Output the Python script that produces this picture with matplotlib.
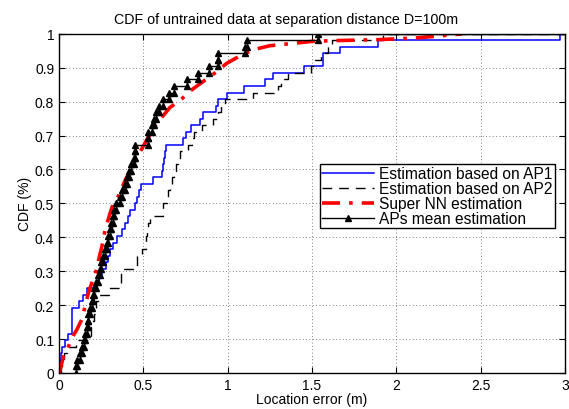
import matplotlib
matplotlib.use("Agg")
import matplotlib.pyplot as plt
import numpy as np
from matplotlib.ticker import FormatStrFormatter

plt.rcParams['font.family'] = ['Liberation Sans', 'DejaVu Sans']

# sorted location errors (m), 52 test points per method
ap1_err = [0.003, 0.006, 0.012, 0.02, 0.035, 0.052, 0.076, 0.076, 0.076, 0.076,
           0.118, 0.143, 0.164, 0.223, 0.236, 0.253, 0.276, 0.292, 0.305, 0.322,
           0.344, 0.371, 0.394, 0.408, 0.42, 0.451, 0.462, 0.477, 0.486, 0.559,
           0.612, 0.618, 0.624, 0.63, 0.633, 0.737, 0.751, 0.782, 0.835, 0.856,
           0.931, 0.945, 0.994, 1.098, 1.22, 1.266, 1.452, 1.567, 1.567, 1.666,
           1.89, 2.97]
ap2_err = [0.01, 0.02, 0.03, 0.046, 0.1, 0.187, 0.187, 0.197, 0.207, 0.212,
           0.221, 0.236, 0.295, 0.367, 0.367, 0.367, 0.46, 0.462, 0.494, 0.516,
           0.516, 0.522, 0.529, 0.541, 0.618, 0.618, 0.64, 0.647, 0.659, 0.669,
           0.679, 0.694, 0.704, 0.717, 0.765, 0.787, 0.802, 0.846, 0.915, 0.945,
           0.96, 0.984, 1.151, 1.3, 1.318, 1.358, 1.495, 1.515, 1.555, 1.595,
           1.62, 1.92]
mean_err = [0.1, 0.108, 0.123, 0.138, 0.15, 0.157, 0.164, 0.169, 0.174, 0.184,
            0.194, 0.202, 0.21, 0.221, 0.231, 0.241, 0.251, 0.261, 0.271, 0.282,
            0.292, 0.3, 0.307, 0.318, 0.328, 0.34, 0.359, 0.374, 0.389, 0.401,
            0.413, 0.428, 0.443, 0.451, 0.451, 0.529, 0.529, 0.549, 0.561, 0.576,
            0.595, 0.615, 0.65, 0.679, 0.757, 0.822, 0.89, 0.945, 0.945, 1.102,
            1.112, 1.535]

# Super NN estimation curve (x, CDF)
nn_x = [0.0, 0.006, 0.026, 0.055, 0.085, 0.104, 0.134, 0.154, 0.174, 0.194,
        0.214, 0.233, 0.253, 0.273, 0.302, 0.328, 0.351, 0.394, 0.451, 0.512,
        0.569, 0.618, 0.658, 0.727, 0.787, 0.856, 0.915, 0.994, 1.073, 1.15,
        1.25, 1.35, 1.505, 1.625, 1.72, 1.9, 2.03, 2.145, 2.26, 2.39]
nn_cdf = [0.0, 0.008, 0.048, 0.077, 0.11, 0.126, 0.156, 0.195, 0.235, 0.265,
          0.29, 0.33, 0.37, 0.42, 0.47, 0.508, 0.52, 0.57, 0.625, 0.68,
          0.729, 0.759, 0.783, 0.808, 0.835, 0.86, 0.881, 0.913, 0.935, 0.953,
          0.965, 0.97, 0.978, 0.98, 0.981, 0.983, 0.986, 0.989, 0.994, 1.0]


def cdf_vertices(err, x_end=None):
    err = np.sort(np.asarray(err, dtype=float))
    n = len(err)
    levels = np.arange(n + 1) / n
    xs, ys = [], []
    for i, e in enumerate(err):
        xs += [e, e]
        ys += [levels[i], levels[i + 1]]
    if x_end is not None:
        xs.append(x_end)
        ys.append(1.0)
    return np.array(xs), np.array(ys)


fig, ax = plt.subplots(figsize=(5.69, 4.10), dpi=100)
fig.subplots_adjust(left=0.1037, right=0.993, bottom=0.088, top=0.915)

x1, y1 = cdf_vertices(ap1_err, x_end=3.0)
ax.plot(x1, y1, color='#0000ff', lw=1.1, label='Estimation based on AP1')
x2, y2 = cdf_vertices(ap2_err, x_end=3.0)
ax.plot(x2, y2, color='black', lw=1.0, linestyle=(0, (7, 5)),
        label='Estimation based on AP2')
ax.plot(nn_x, nn_cdf, color='red', lw=2.6, linestyle=(0, (5, 2.5, 1, 2.5)),
        label='Super NN estimation')
x3, y3 = cdf_vertices(mean_err, x_end=3.0)
ax.plot(x3[:-1], y3[:-1], color='black', lw=1.0, marker='^', markersize=5,
        markerfacecolor='black', markeredgecolor='black',
        label='APs mean estimation')
ax.plot(x3[-2:], y3[-2:], color='black', lw=1.0)

ax.set_xlim(0, 3)
ax.set_ylim(0, 1)
ax.set_xticks(np.arange(0, 3.01, 0.5))
ax.set_yticks(np.arange(0, 1.01, 0.1))
ax.xaxis.set_major_formatter(FormatStrFormatter('%g'))
ax.yaxis.set_major_formatter(FormatStrFormatter('%g'))
ax.tick_params(direction='in', top=True, right=True, length=4, labelsize=10)
ax.grid(True, linestyle=(0, (1, 3)), color='0.35', lw=0.6)
for s in ax.spines.values():
    s.set_linewidth(1.0)

ax.set_title('CDF of untrained data at separation distance D=100m',
             fontsize=10.3, x=0.449, pad=8)
ax.set_xlabel('Location error (m)', fontsize=10, labelpad=0)
ax.set_ylabel('CDF (%)', fontsize=10, labelpad=2)

leg = ax.legend(loc='upper right', bbox_to_anchor=(0.98, 0.617), fontsize=11.2,
                fancybox=False, framealpha=1, edgecolor='black',
                borderpad=0.15, labelspacing=0.0, handlelength=3.3,
                handletextpad=0.35, borderaxespad=0)
leg.get_frame().set_linewidth(1.0)

fig.savefig('out.png', dpi=100)
